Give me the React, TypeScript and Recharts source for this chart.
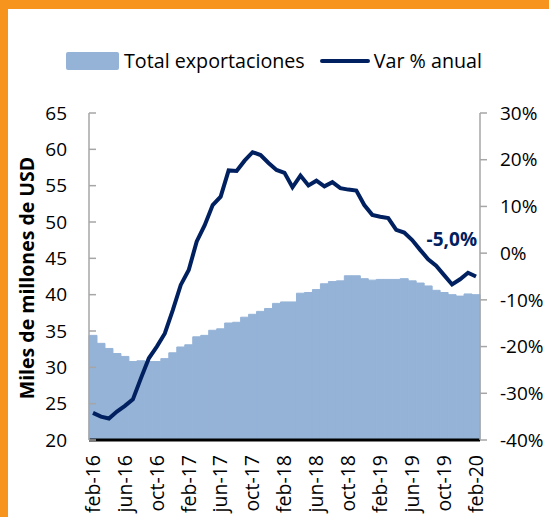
import React from 'react';
import {
  ComposedChart,
  Bar,
  Line,
  XAxis,
  YAxis,
  Legend,
  LabelList
} from 'recharts';

const MESES = [
  'feb-16', 'mar-16', 'abr-16', 'may-16', 'jun-16', 'jul-16', 'ago-16', 'sep-16', 'oct-16', 'nov-16', 'dic-16', 'ene-17',
  'feb-17', 'mar-17', 'abr-17', 'may-17', 'jun-17', 'jul-17', 'ago-17', 'sep-17', 'oct-17', 'nov-17', 'dic-17', 'ene-18',
  'feb-18', 'mar-18', 'abr-18', 'may-18', 'jun-18', 'jul-18', 'ago-18', 'sep-18', 'oct-18', 'nov-18', 'dic-18', 'ene-19',
  'feb-19', 'mar-19', 'abr-19', 'may-19', 'jun-19', 'jul-19', 'ago-19', 'sep-19', 'oct-19', 'nov-19', 'dic-19', 'ene-20',
  'feb-20'
];

// miles de millones de USD
const EXPORTACIONES = [
  34.4, 33.3, 32.6, 31.9, 31.5, 30.8, 30.9, 30.8, 30.8, 31.2, 32.0, 32.8,
  33.1, 34.2, 34.4, 35.1, 35.3, 36.1, 36.2, 36.9, 37.3, 37.7, 38.1, 38.8,
  39.0, 39.0, 40.2, 40.3, 40.7, 41.5, 41.8, 41.9, 42.6, 42.6, 42.2, 42.0,
  42.1, 42.1, 42.1, 42.2, 41.9, 41.6, 41.2, 40.6, 40.3, 40.0, 39.8, 40.1,
  40.0
];

// var % anual
const VAR_ANUAL = [
  -34.2, -35.0, -35.4, -33.9, -32.7, -31.3, -26.8, -22.5, -20.0, -17.2, -12.2, -6.8,
  -3.6, 2.5, 6.0, 10.3, 12.1, 17.7, 17.6, 19.8, 21.6, 21.0, 19.3, 17.8,
  17.2, 14.1, 16.6, 14.5, 15.5, 14.3, 15.2, 13.9, 13.6, 13.4, 10.3, 8.2,
  7.8, 7.5, 5.0, 4.4, 2.8, 0.7, -1.3, -2.7, -4.7, -6.7, -5.6, -4.2,
  -5.0
];

const TICKS_IZQ = [20, 25, 30, 35, 40, 45, 50, 55, 60, 65];
const TICKS_DER = [-40, -30, -20, -10, 0, 10, 20, 30];

const AZUL_AREA = '#95B3D7';
const AZUL_LINEA = '#002060';
const GRIS_EJE = '#A6A6A6';
const NARANJA = '#F7941D';
const FONT = '"Open Sans", sans-serif';

const data = MESES.map((mes, i) => ({
  mes,
  total: EXPORTACIONES[i],
  variacion: VAR_ANUAL[i]
}));

function LeftTick(props: any) {
  const { x, y, payload } = props;
  return (
    <g>
      <line x1={x + 22} x2={x + 29} y1={y} y2={y} stroke={GRIS_EJE} strokeWidth={1.5} />
      <text x={x} y={y} dy="0.35em" textAnchor="end" fontSize={19} fontFamily={FONT} fill="#000">
        {payload.value}
      </text>
    </g>
  );
}

function MonthTick(props: any) {
  const { x, y, payload } = props;
  return (
    <text
      x={x}
      y={y}
      dy="0.35em"
      transform={`rotate(-90, ${x}, ${y})`}
      textAnchor="end"
      fontSize={19.5}
      fontFamily={FONT}
      fill="#000"
    >
      {payload.value}
    </text>
  );
}

function LeyendaCustom() {
  return (
    <div style={{ display: 'flex', alignItems: 'center', fontFamily: FONT, fontSize: 19.7, color: '#000', whiteSpace: 'nowrap' }}>
      <span style={{ display: 'inline-block', width: 53, height: 18, background: AZUL_AREA, borderRadius: 2 }} />
      <span style={{ marginLeft: 5 }}>Total exportaciones</span>
      <span style={{ display: 'inline-block', width: 50, height: 4, background: AZUL_LINEA, borderRadius: 2, marginLeft: 15 }} />
      <span style={{ marginLeft: 4 }}>Var % anual</span>
    </div>
  );
}

export default function App() {
  const lastIndex = data.length - 1;
  return (
    <div style={{ position: 'absolute', left: 0, top: 0, width: 549, height: 517, background: '#fff', overflow: 'hidden' }}>
      <ComposedChart
        width={549}
        height={517}
        data={data}
        margin={{ top: 113, right: 0, bottom: 0, left: 0 }}
        barCategoryGap={0}
        barGap={0}
      >
        <XAxis
          dataKey="mes"
          interval={3}
          height={77}
          tickLine={false}
          tickSize={0}
          tickMargin={15}
          axisLine={{ stroke: '#000', strokeWidth: 3 }}
          tick={<MonthTick />}
        />
        <YAxis
          yAxisId="left"
          width={89}
          domain={[20, 65]}
          ticks={TICKS_IZQ}
          tickLine={false}
          tickSize={0}
          tickMargin={22}
          axisLine={{ stroke: GRIS_EJE, strokeWidth: 1.5 }}
          tick={<LeftTick />}
          label={{
            content: () => (
              <text
                x={26}
                y={278}
                transform="rotate(-90, 26, 278)"
                textAnchor="middle"
                dominantBaseline="central"
                fontSize={19.5}
                fontWeight="bold"
                fontFamily={FONT}
                fill="#000"
              >
                Miles de millones de USD
              </text>
            )
          }}
        />
        <YAxis
          yAxisId="right"
          orientation="right"
          width={69}
          domain={[-40, 30]}
          ticks={TICKS_DER}
          tickSize={7}
          tickMargin={13}
          tickLine={{ stroke: GRIS_EJE, strokeWidth: 1.5 }}
          axisLine={{ stroke: GRIS_EJE, strokeWidth: 1.5 }}
          tickFormatter={(v) => `${v}%`}
          tick={{ fontSize: 19, fontFamily: FONT, fill: '#000', textAnchor: 'start' }}
        />
        <Legend
          layout="horizontal"
          verticalAlign="middle"
          align="center"
          wrapperStyle={{ top: 47, left: 66, width: 'auto' }}
          content={<LeyendaCustom />}
        />
        <Bar
          yAxisId="left"
          dataKey="total"
          name="Total exportaciones"
          fill={AZUL_AREA}
          stroke={AZUL_AREA}
          strokeWidth={1}
          isAnimationActive={false}
        />
        <Line
          yAxisId="right"
          type="linear"
          dataKey="variacion"
          name="Var % anual"
          stroke={AZUL_LINEA}
          strokeWidth={4}
          dot={false}
          isAnimationActive={false}
        >
          <LabelList
            dataKey="variacion"
            content={(p: any) =>
              p.index === lastIndex ? (
                <text
                  x={p.x + 1}
                  y={p.y - 31}
                  textAnchor="end"
                  fontSize={19}
                  fontWeight="bold"
                  fontFamily={FONT}
                  fill={AZUL_LINEA}
                >
                  {String(p.value.toFixed(1)).replace('.', ',')}%
                </text>
              ) : null
            }
          />
        </Line>
      </ComposedChart>
      {/* marco naranja */}
      <div style={{ position: 'absolute', left: 0, top: 0, width: 549, height: 9, background: NARANJA }} />
      <div style={{ position: 'absolute', left: 0, top: 0, width: 8, height: 517, background: NARANJA }} />
    </div>
  );
}
